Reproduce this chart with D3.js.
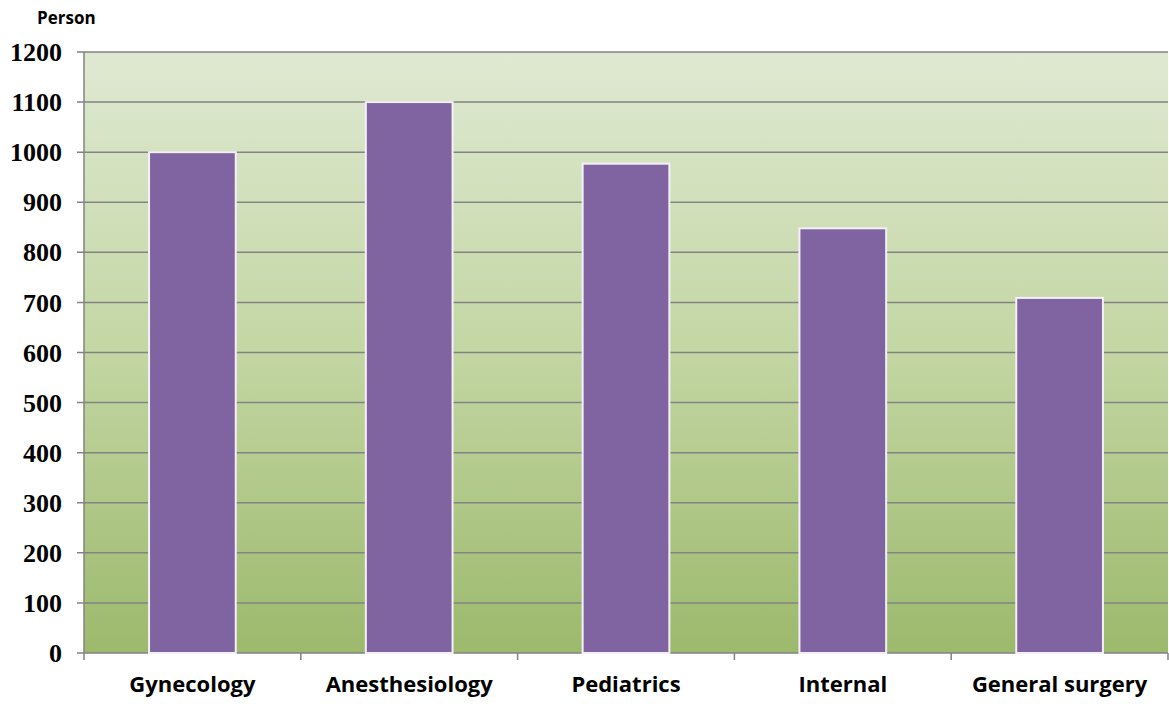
<!DOCTYPE html>
<html>
<head>
<meta charset="utf-8">
<script src="https://cdn.jsdelivr.net/npm/d3@7"></script>
<style>
  body { margin: 0; background: #fff; }
</style>
</head>
<body>
<svg id="chart" width="1169" height="704"></svg>
<script>
// data
var departments = ["Gynecology", "Anesthesiology", "Pediatrics", "Internal", "General surgery"];
var persons = [1000, 1100, 977, 848, 709];
var yTicks = [0, 100, 200, 300, 400, 500, 600, 700, 800, 900, 1000, 1100, 1200];

var svg = d3.select("#chart"),
    margin = {top: 52, right: 1, bottom: 51, left: 84},
    width = +svg.attr("width") - margin.left - margin.right,
    height = +svg.attr("height") - margin.top - margin.bottom;

var defs = svg.append("defs");
var grad = defs.append("linearGradient")
    .attr("id", "bg")
    .attr("x1", 0).attr("y1", 0).attr("x2", 0).attr("y2", 1);
grad.append("stop").attr("offset", "0%").attr("stop-color", "#dfe9d2");
grad.append("stop").attr("offset", "50%").attr("stop-color", "#c3d6a3");
grad.append("stop").attr("offset", "100%").attr("stop-color", "#9cb96c");

var g = svg.append("g")
    .attr("transform", "translate(" + margin.left + "," + margin.top + ")");

var x = d3.scaleBand()
    .domain(departments)
    .range([0, width])
    .paddingInner(0.6)
    .paddingOuter(0.3);

var y = d3.scaleLinear()
    .domain([0, 1200])
    .range([height, 0]);

// plot background
g.append("rect")
    .attr("width", width)
    .attr("height", height)
    .attr("fill", "url(#bg)");

// gridlines
g.append("g")
    .selectAll("line")
    .data(yTicks)
    .join("line")
      .attr("x1", -7)
      .attr("x2", width)
      .attr("y1", function(d) { return y(d); })
      .attr("y2", function(d) { return y(d); })
      .attr("stroke", "#838383")
      .attr("stroke-width", 1.5);

// bars
g.append("g")
    .selectAll("rect")
    .data(persons)
    .join("rect")
      .attr("x", function(d, i) { return x(departments[i]); })
      .attr("y", function(d) { return y(d); })
      .attr("width", x.bandwidth())
      .attr("height", function(d) { return height - y(d); })
      .attr("fill", "#8064a2")
      .attr("stroke", "#f4f0f6")
      .attr("stroke-width", 2);

// y axis line
g.append("line")
    .attr("x1", 0).attr("x2", 0)
    .attr("y1", 0).attr("y2", height)
    .attr("stroke", "#838383")
    .attr("stroke-width", 1.5);

// y tick labels
g.append("g")
    .selectAll("text")
    .data(yTicks)
    .join("text")
      .attr("x", -22)
      .attr("y", function(d) { return y(d); })
      .attr("dy", "0.35em")
      .attr("text-anchor", "end")
      .style("font-family", "'Liberation Serif', 'Times New Roman', serif")
      .style("font-weight", "bold")
      .style("font-size", "26px")
      .text(function(d) { return d; });

// x axis ticks (category boundaries)
var bounds = departments.map(function(d) { return x(d) - x.step() * x.paddingOuter(); });
bounds.push(width);
g.append("g")
    .selectAll("line")
    .data(bounds)
    .join("line")
      .attr("x1", function(d) { return d; })
      .attr("x2", function(d) { return d; })
      .attr("y1", height)
      .attr("y2", height + 7)
      .attr("stroke", "#838383")
      .attr("stroke-width", 1.5);

// x labels
g.append("g")
    .selectAll("text")
    .data(departments)
    .join("text")
      .attr("x", function(d) { return x(d) + x.bandwidth() / 2; })
      .attr("y", height + 39)
      .attr("text-anchor", "middle")
      .style("font-family", "'Open Sans', sans-serif")
      .style("font-weight", "bold")
      .style("font-size", "22px")
      .text(function(d) { return d; });

// unit label
svg.append("text")
    .attr("x", 37)
    .attr("y", 24)
    .style("font-family", "'Open Sans', sans-serif")
    .style("font-weight", "bold")
    .style("font-size", "17px")
    .text("Person");
</script>
</body>
</html>
